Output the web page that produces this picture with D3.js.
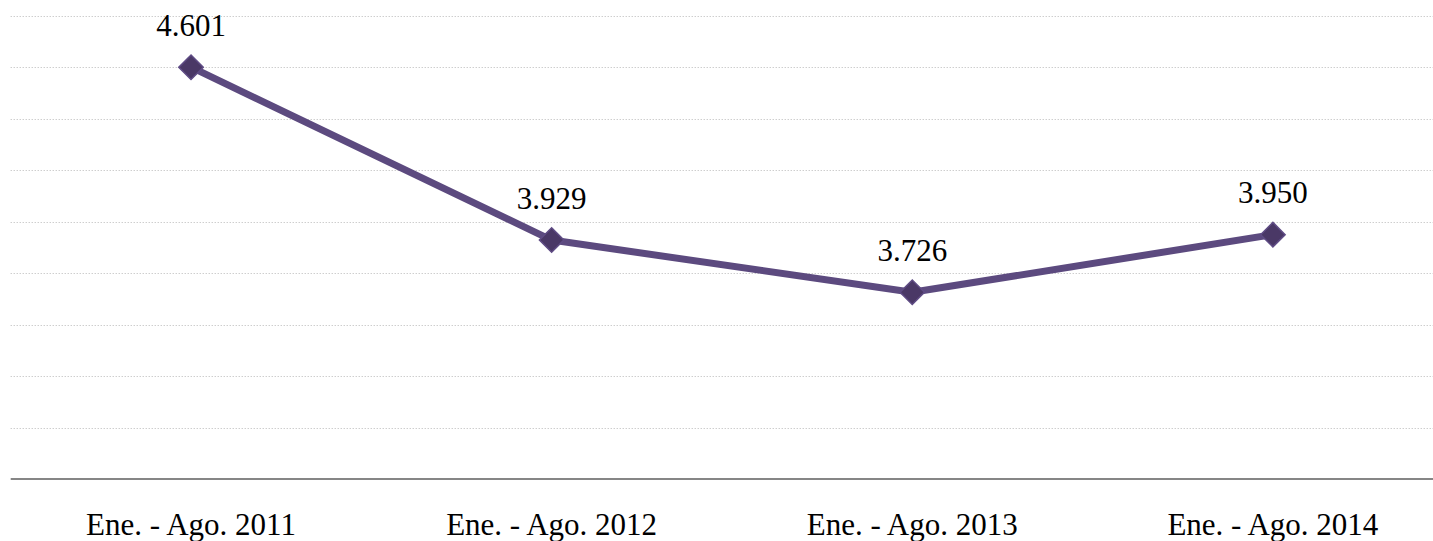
<!DOCTYPE html>
<html><head><meta charset="utf-8">
<script src="https://cdn.jsdelivr.net/npm/d3@7"></script>
<style>body{margin:0;background:#fff;}svg{display:block;}
text{font-family:"Liberation Serif","Times New Roman",Times,serif;font-size:31px;fill:#000;}</style>
</head><body>
<svg id="c" width="1433" height="541"></svg>
<script>
const categories = ["Ene. - Ago. 2011","Ene. - Ago. 2012","Ene. - Ago. 2013","Ene. - Ago. 2014"];
const values = [4.601, 3.929, 3.726, 3.950];
const labels = ["4.601","3.929","3.726","3.950"];
const yTicks = [3.2,3.4,3.6,3.8,4.0,4.2,4.4,4.6,4.8];

(function(){
const svg = d3.select("#c");
const mLeft = 10.7, mRight = 1453.2, mTop = 16, mBottom = 479;
const x = d3.scaleBand().domain(categories).range([mLeft, mRight]).padding(0);
const y = d3.scaleLinear().domain([3.0, 4.8]).range([mBottom, mTop]);
const cx = d => x(d) + x.bandwidth()/2;

svg.append("g").selectAll("line").data(yTicks).join("line")
  .attr("x1", mLeft).attr("x2", 1433)
  .attr("y1", d => Math.round(y(d)) + 0.5).attr("y2", d => Math.round(y(d)) + 0.5)
  .attr("stroke", "#b8b8b8").attr("stroke-width", 1).attr("stroke-dasharray", "1,2");

svg.append("line").attr("x1", mLeft).attr("x2", 1433)
  .attr("y1", y(3.0)).attr("y2", y(3.0))
  .attr("stroke", "#868686").attr("stroke-width", 2);

const pts = categories.map((c,i) => [cx(c), y(values[i])]);
svg.append("path").attr("d", d3.line()(pts))
  .attr("fill", "none").attr("stroke", "#5c4a7f").attr("stroke-width", 7).attr("stroke-linejoin", "round");

const sym = d3.symbol().type(d3.symbolSquare).size(300);
svg.append("g").selectAll("path").data(pts).join("path")
  .attr("d", sym)
  .attr("transform", d => `translate(${d[0]},${d[1]}) rotate(45)`)
  .attr("fill", "#4a3866").attr("stroke", "#5f4c85").attr("stroke-width", 1.5);

svg.append("g").selectAll("text").data(pts).join("text")
  .attr("x", d => d[0]).attr("y", d => d[1] - 31.5)
  .attr("text-anchor", "middle")
  .text((d,i) => labels[i]);

svg.append("g").selectAll("text").data(categories).join("text")
  .attr("x", d => cx(d)).attr("y", 535)
  .attr("text-anchor", "middle")
  .text(d => d);
})();
</script>
</body></html>
